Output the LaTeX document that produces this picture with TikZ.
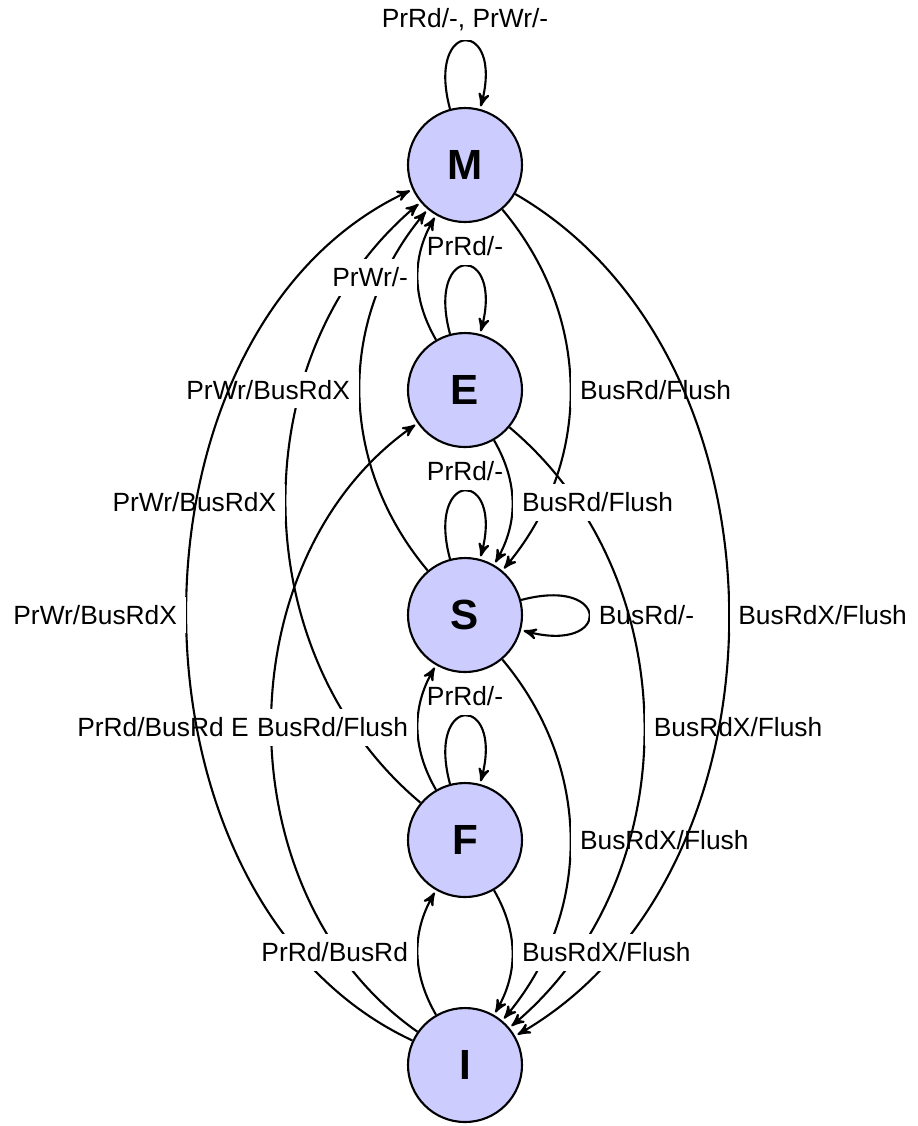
\documentclass[tikz,border=0pt]{standalone}
\usepackage{fontspec}
\setmainfont{Liberation Sans}
\usetikzlibrary{arrows}
\usetikzlibrary{positioning}

\begin{document}
\begin{tikzpicture}[->, >=stealth', shorten >=1pt, auto, thick, node distance=3cm, on grid]
		\tikzstyle{mstate}=[circle, minimum size=15.2mm, thick, draw=black, fill=blue!20, font=\fontsize{16}{19}\selectfont\bfseries]
		\tikzstyle{trans}=[fill=white, font=\fontsize{10}{12}\selectfont]
		\useasboundingbox (-6.2,-12.813) rectangle (6.027,2.2);
		\node[mstate] (M) {M};
		\node[mstate] (E) [below=of M] {E};
		\node[mstate] (S) [below=of E] {S};
		\node[mstate] (F) [below=of S] {F};
		\node[mstate] (I) [below=of F] {I};
		\path
		(M) edge [loop above] node[trans] {PrRd/-, PrWr/-} (M)
		(E) edge [loop above] node[trans] {PrRd/-} (E)
		(S) edge [loop above] node[trans] {PrRd/-} (S)
		(S) edge [loop right] node[trans] {BusRd/-} (S)
		(F) edge [loop above] node[trans] {PrRd/-} (F)
		%	going up
		(I) edge [bend left=55] node[trans] {PrRd/BusRd Ex} (E)
		(F) edge [bend left=50] node[trans] {PrWr/BusRdX} (M)
		(S) edge [bend left=40] node[trans] {PrWr/BusRdX} (M)
		(I) edge [bend left=65] node[trans] {PrWr/BusRdX} (M)
		(F) edge [bend left=30] node[trans] {BusRd/Flush} (S)
		(E) edge [bend left=30] node[trans] {PrWr/-} (M)
		(I) edge [bend left=30] node[trans] {PrRd/BusRd} (F)
		%	going down
		(M) edge [bend left=40] node[trans] {BusRd/Flush} (S)
		(S) edge [bend left=40] node[trans] {BusRdX/Flush} (I)
		(E) edge [bend left=50] node[trans] {BusRdX/Flush} (I)
		(E) edge [bend left=30] node[trans] {BusRd/Flush} (S)
		(M) edge [bend left=60] node[trans] {BusRdX/Flush} (I)
		(F) edge [bend left=30] node[trans] {BusRdX/Flush} (I)
		;
	\end{tikzpicture}
\end{document}
